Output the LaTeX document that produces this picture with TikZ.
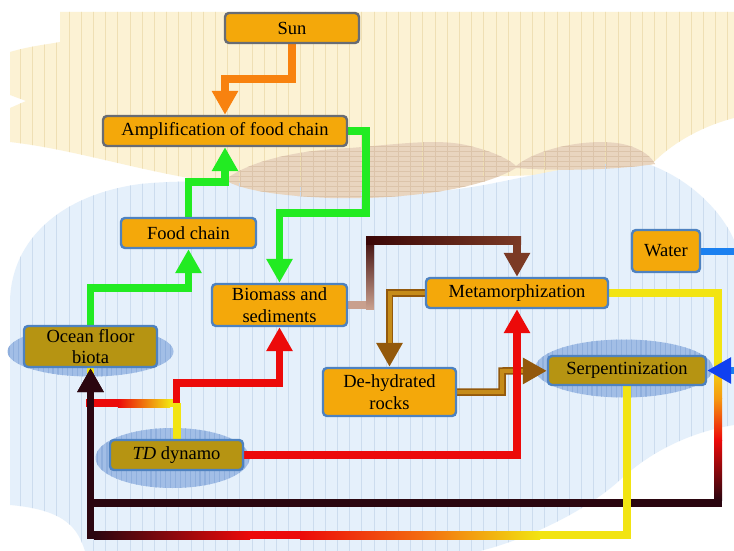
\documentclass[tikz,border=0pt]{standalone}
\usepackage{fontspec}
\setmainfont{Liberation Serif}
\newfontfamily\boxfont{Liberation Serif}
\usetikzlibrary{arrows.meta,calc}
\definecolor{boxfill}{HTML}{F4A80A}
\definecolor{olivefill}{HTML}{B69412}
\definecolor{boxblue}{HTML}{4E82C0}
\definecolor{boxgray}{HTML}{686C74}
\definecolor{greenA}{HTML}{22EB22}
\definecolor{orangeA}{HTML}{F8820F}
\definecolor{orangeB}{HTML}{F36A10}
\definecolor{orangeC}{HTML}{F59A10}
\definecolor{redA}{HTML}{EC0A0A}
\definecolor{yellowA}{HTML}{F2E412}
\definecolor{darkA}{HTML}{2B0610}
\definecolor{brownA}{HTML}{93590C}
\definecolor{brownL}{HTML}{C68C1A}
\definecolor{pinkA}{HTML}{C9A08E}
\definecolor{maroonA}{HTML}{3A0606}
\definecolor{rustA}{HTML}{7B3A25}
\definecolor{blueA}{HTML}{1A80F0}
\definecolor{blueB}{HTML}{1040F0}
\definecolor{beigeA}{HTML}{FCF2D4}
\definecolor{beigeL}{HTML}{EFDFB4}
\definecolor{skyA}{HTML}{E5F0FB}
\definecolor{skyL}{HTML}{CCDCEE}
\definecolor{bumpA}{HTML}{E9D5BF}
\definecolor{bumpL}{HTML}{DCC4AA}
\definecolor{ellA}{HTML}{A2BEE6}
\definecolor{ellL}{HTML}{8FAFDD}
\pgfdeclarelayer{bg}\pgfdeclarelayer{lines}\pgfsetlayers{bg,lines,main}
\tikzset{
  box/.style={draw=boxblue, line width=2.4pt, rounded corners=4pt, fill=boxfill,
    align=center, font=\boxfont\fontsize{18.5}{21.5}\selectfont, inner sep=0pt},
  graybox/.style={box, draw=boxgray},
  olivebox/.style={box, fill=olivefill},
  conn/.style={line width=7.5pt, -{Triangle[width=25pt,length=24pt]}},
  plainline/.style={line width=7.5pt},
  tubehi/.style={line width=4pt, brownL, shorten >=24pt},
}
\begin{document}
\begin{tikzpicture}[x=1pt,y=-1pt]
\useasboundingbox (0,0) rectangle (734,551);
% nodes
\node[graybox, minimum width=134pt, minimum height=30pt] (sun) at (292,28) {Sun};
\node[graybox, minimum width=244pt, minimum height=30pt] (amp) at (225,131) {Amplification of food chain};
\node[box, minimum width=135pt, minimum height=30pt] (food) at (188.5,233) {Food chain};
\node[box, minimum width=135pt, minimum height=42pt] (bio) at (279.5,305) {Biomass and\\sediments};
\node[olivebox, minimum width=133pt, minimum height=41pt] (ocean) at (90.5,346.5) {Ocean floor\\biota};
\node[box, minimum width=68pt, minimum height=42pt] (water) at (666,251) {Water};
\node[box, minimum width=182pt, minimum height=30pt] (meta) at (517,293) {Metamorphization};
\node[box, minimum width=133pt, minimum height=48pt] (dehyd) at (389.5,392) {De-hydrated\\rocks};
\node[olivebox, minimum width=158pt, minimum height=29pt] (serp) at (627,370.5) {Serpentinization};
\node[olivebox, minimum width=133pt, minimum height=30pt] (td) at (176.5,455) {\textit{TD} dynamo};

\begin{pgfonlayer}{bg}
\fill[white] (0,0) rectangle (734,551);
\def\beigeshape{(60,12) -- (734,12) -- (734,118) .. controls (695,128) and (662,150) .. (645,172) -- (230,184) .. controls (150,175) and (80,150) .. (10,142) -- (10,108) -- (26,101) -- (10,95) -- (10,52) .. controls (30,46) and (50,44) .. (60,42) -- cycle}
\def\blueshape{(10,505) -- (10,300) .. controls (12,240) and (60,195) .. (140,184) .. controls (220,176) and (300,190) .. (420,192) .. controls (500,190) and (560,160) .. (645,163) .. controls (690,178) and (722,212) .. (734,240) -- (734,425) .. controls (690,432) and (650,452) .. (620,480) .. controls (585,512) and (525,540) .. (480,551) -- (85,551) .. controls (78,530) and (68,510) .. (10,505) -- cycle}
\def\bumpshape{(225,180) .. controls (250,160) and (300,150) .. (350,148) .. controls (400,144) and (440,138) .. (470,146) .. controls (495,152) and (510,160) .. (516,166) .. controls (540,146) and (600,136) .. (630,146) .. controls (645,151) and (652,158) .. (655,164) .. controls (600,172) and (540,170) .. (516,168) .. controls (480,190) and (400,200) .. (330,198) .. controls (280,196) and (240,190) .. (225,180) -- cycle}
\fill[beigeA] \beigeshape;
\fill[skyA] \blueshape;
\fill[bumpA] \bumpshape;
\begin{scope}
\clip \beigeshape;
\foreach \i in {0,...,60} \draw[beigeL, line width=0.8pt] ({8+12.2*\i},0) -- ++(0,551);
\end{scope}
\begin{scope}
\clip \blueshape;
\foreach \i in {0,...,60} \draw[skyL, line width=0.8pt] ({8+12.2*\i},0) -- ++(0,551);
\end{scope}
\begin{scope}
\clip \bumpshape;
\foreach \i in {0,...,60} \draw[bumpL, line width=0.6pt] ({8+12.2*\i},0) -- ++(0,551);
\foreach \j in {0,...,12} \draw[bumpL, line width=0.6pt] (200,{136+5*\j}) -- ++(480,0);
\end{scope}
\fill[ellA] ($(ocean.center)+(0,5)$) ellipse [x radius=83pt, y radius=25pt];
\fill[ellA] ($(td.center)+(-4,3)$) ellipse [x radius=77pt, y radius=30pt];
\fill[ellA] ($(serp.center)+(-3,-2)$) ellipse [x radius=89pt, y radius=29pt];
\begin{scope}
\clip ($(ocean.center)+(0,5)$) ellipse [x radius=83pt, y radius=25pt]
      ($(td.center)+(-4,3)$) ellipse [x radius=77pt, y radius=30pt]
      ($(serp.center)+(-3,-2)$) ellipse [x radius=89pt, y radius=29pt];
\foreach \i in {0,...,150} \draw[ellL, line width=1.2pt] ({4+4.9*\i},300) -- ++(0,200);
\end{scope}
\end{pgfonlayer}

\begin{pgfonlayer}{lines}
% Sun -> Amplification
\coordinate (sa1) at (260,79);
\draw[conn, orangeA] (sun.south) |- (sa1) -| (amp);
% Ocean floor biota -> Food chain
\coordinate (of1) at (140,288);
\draw[conn, greenA] (ocean.north) |- (of1) -| (food);
% Food chain -> Amplification
\coordinate (fa1) at (205,182);
\draw[conn, greenA] (food.north) |- (fa1) -| (amp);
% Amplification -> Biomass
\coordinate (ab1) at (366,213);
\draw[conn, greenA] (amp.east) -| (ab1) -| (bio);
% Biomass -> Metamorphization
\coordinate (bm1) at (370,240);
\draw[conn, rustA] (bio.east) -| (bm1) -| (meta);
\fill[pinkA] ($(bio.east)+(0,-4)$) rectangle ($(bio.east -| bm1)+(4,4)$);
\shade[top color=maroonA, bottom color=pinkA] ($(bm1)+(-4,-4)$) rectangle ($(bio.east -| bm1)+(4,4)$);
\shade[left color=maroonA, right color=rustA] ($(bm1)+(-4,-4)$) rectangle ($(bm1 -| meta)+(4,4)$);
% Metamorphization -> De-hydrated rocks
\draw[conn, brownA] (meta.west) -| (dehyd);
\draw[tubehi] (meta.west) -| (dehyd);
% De-hydrated rocks -> Serpentinization
\coordinate (ds1) at (502,371);
\draw[conn, brownA] (dehyd.east) -| (ds1) -- (serp);
\draw[tubehi] (dehyd.east) -| (ds1) -- (serp);
% TD dynamo -> Ocean floor biota
\coordinate (to1) at (90.5,403);
\draw[plainline, yellowA] (td.north) |- (to1) -- (ocean);
\fill[redA] (86,399) rectangle (118,407);
\shade[left color=redA, right color=yellowA] (118,399) rectangle (170,407);
% TD dynamo -> Biomass
\coordinate (tb1) at (230,383);
\draw[conn, redA] (td.north) |- (tb1) -| (bio);
\fill[yellowA] ($(td.north)+(-4,0)$) rectangle ($(td.north)+(4,-36)$);
% Metamorphization -> Ocean floor biota
\coordinate (mo1) at (718,503);
\draw[conn, darkA] (meta.east) -| (mo1) -| (ocean);
\fill[yellowA] ($(meta.east)+(0,-4)$) rectangle (722,297);
\fill[yellowA] (714,289) rectangle (722,360);
\shade[top color=yellowA, bottom color=orangeC] (714,360) rectangle (722,398);
\shade[top color=orangeC, bottom color=redA] (714,398) rectangle (722,440);
\shade[top color=redA, bottom color=darkA] (714,440) rectangle (722,500);
% Serpentinization -> Ocean floor biota
\coordinate (so1) at (300,535);
\draw[conn, darkA] (serp.south) |- (so1) -| (ocean);
\fill[yellowA] ($(serp.south)+(-4,0)$) rectangle ($(serp.south |- so1)+(4,4)$);
\fill[yellowA] (540,531) rectangle (627,539);
\shade[left color=orangeB, right color=yellowA] (420,531) rectangle (540,539);
\shade[left color=redA, right color=orangeB] (300,531) rectangle (420,539);
\fill[redA] (250,531) rectangle (300,539);
\shade[left color=darkA, right color=redA] (94,531) rectangle (250,539);
% TD dynamo -> Metamorphization
\draw[conn, redA] (td.east) -| (meta);
% Water -> Serpentinization
\coordinate (ws1) at (760,300);
\draw[line width=7pt, blueA, -{Triangle[width=25pt,length=24pt,color=blueB]}] (water.east) -| (ws1) |- (serp);
\end{pgfonlayer}
\end{tikzpicture}
\end{document}
